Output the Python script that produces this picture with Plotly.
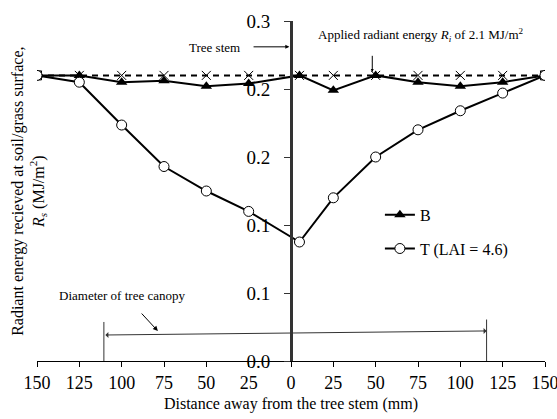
import plotly.graph_objects as go

# ---- data ----
x_pos = [-150, -125, -100, -75, -50, -25, 5, 25, 50, 75, 100, 125, 150]
applied = [0.21] * 13
b_vals = [0.21, 0.21, 0.205, 0.206, 0.202, 0.204, 0.21, 0.199, 0.21, 0.205, 0.202, 0.205, 0.21]
t_vals = [0.21, 0.205, 0.1735, 0.143, 0.125, 0.11, 0.0875, 0.12, 0.15, 0.17, 0.184, 0.197, 0.21]
x_ticks = [-150, -125, -100, -75, -50, -25, 0, 25, 50, 75, 100, 125, 150]
x_ticktext = ["150", "125", "100", "75", "50", "25", "0", "25", "50", "75", "100", "125", "150"]
y_ticks = [0.0, 0.05, 0.10, 0.15, 0.20, 0.25]
y_ticktext = ["0.0", "0.1", "0.1", "0.2", "0.2", "0.3"]
canopy = [-110.5, 115.5]

FONT = "Liberation Serif"

fig = go.Figure()

sym_applied = ["square-x-open"] + ["x-thin-open"] * 11 + ["square-x-open"]
fig.add_trace(go.Scatter(
    x=x_pos, y=applied, mode="lines+markers", showlegend=False,
    line=dict(color="black", width=2, dash="6px,5px"),
    marker=dict(symbol=sym_applied, size=9, color="black", line=dict(width=1, color="black")),
))
fig.add_trace(go.Scatter(
    x=x_pos, y=b_vals, mode="lines+markers", name="B", legendgroup="b",
    line=dict(color="black", width=2),
    marker=dict(symbol="triangle-up", size=10, color="black"),
))
fig.add_trace(go.Scatter(
    x=x_pos, y=t_vals, mode="lines+markers", name="T (LAI = 4.6)", legendgroup="t",
    line=dict(color="black", width=2),
    marker=dict(symbol="circle", size=10, color="white", line=dict(width=1, color="black")),
))

# canopy markers
for cx, top in zip(canopy, [0.0287, 0.0305]):
    fig.add_shape(type="line", x0=cx, x1=cx, y0=0, y1=top, xref="x", yref="y",
                  line=dict(color="#333", width=1))

annos = []
annos.append(dict(x=canopy[1], y=0.0221, ax=canopy[0], ay=0.0191, xref="x", yref="y",
                  axref="x", ayref="y", text="", showarrow=True, arrowside="end+start",
                  arrowhead=1, arrowsize=1, arrowwidth=1, arrowcolor="#333"))
annos.append(dict(x=-100, y=0.048, xref="x", yref="y", text="Diameter of tree canopy",
                  showarrow=False, font=dict(family=FONT, size=13, color="black")))
annos.append(dict(x=-78.6, y=0.022, ax=-89, ay=0.036, xref="x", yref="y", axref="x", ayref="y",
                  text="", showarrow=True, arrowhead=2, arrowsize=1, arrowwidth=1, arrowcolor="black"))
annos.append(dict(x=-29, y=0.2305, xref="x", yref="y", text="Tree stem", xanchor="right",
                  showarrow=False, font=dict(family=FONT, size=13, color="black")))
annos.append(dict(x=-1, y=0.231, ax=-23, ay=0.231, xref="x", yref="y", axref="x", ayref="y",
                  text="", showarrow=True, arrowhead=2, arrowsize=0.8, arrowwidth=1, arrowcolor="black"))
annos.append(dict(x=15, y=0.2397, xref="x", yref="y", xanchor="left",
                  text="Applied radiant energy <i>R<sub>i</sub></i> of 2.1 MJ/m<sup>2</sup>",
                  showarrow=False, font=dict(family=FONT, size=13, color="black")))
annos.append(dict(x=48, y=0.2125, ax=48, ay=0.2255, xref="x", yref="y", axref="x", ayref="y",
                  text="", showarrow=True, arrowhead=2, arrowsize=0.6, arrowwidth=1, arrowcolor="black"))
annos.append(dict(x=-0.016, y=0.5, xref="paper", yref="paper", xanchor="center", yanchor="middle",
                  textangle=-90,
                  text="Radiant energy recieved at soil/grass surface,<br><i>R<sub>s</sub></i> (MJ/m<sup>2</sup>)",
                  showarrow=False, font=dict(family=FONT, size=16, color="black")))

fig.update_layout(
    width=557, height=419,
    margin=dict(l=37, r=12, t=21, b=58),
    paper_bgcolor="white", plot_bgcolor="white",
    font=dict(family=FONT, color="black"),
    annotations=annos,
    legend=dict(x=0.675, y=0.48, xanchor="left", yanchor="top", bgcolor="rgba(0,0,0,0)",
                font=dict(family=FONT, size=16, color="black"), tracegroupgap=10,
                itemwidth=30, traceorder="grouped"),
    xaxis=dict(range=[-150, 150], tickvals=x_ticks, ticktext=x_ticktext,
               showgrid=False, zeroline=False, showline=True, linecolor="black", linewidth=1,
               ticks="outside", ticklen=5, tickcolor="black", automargin=False,
               ticklabeloverflow="allow",
               tickfont=dict(family=FONT, size=18, color="black"),
               title=dict(text="Distance away from the tree stem (mm)",
                          font=dict(family=FONT, size=16, color="black"), standoff=6)),
    yaxis=dict(range=[0, 0.25], tickvals=y_ticks, ticktext=y_ticktext,
               anchor="free", position=0.5, automargin=False,
               showgrid=False, zeroline=False, showline=True, linecolor="#333", linewidth=3,
               ticks="outside", ticklen=6, tickcolor="#333", ticklabelstandoff=10,
               tickfont=dict(family=FONT, size=19, color="black")),
)

fig.write_html("out.html", config={"displayModeBar": False},
               post_script="document.body.style.margin='0';document.body.style.padding='0';")
